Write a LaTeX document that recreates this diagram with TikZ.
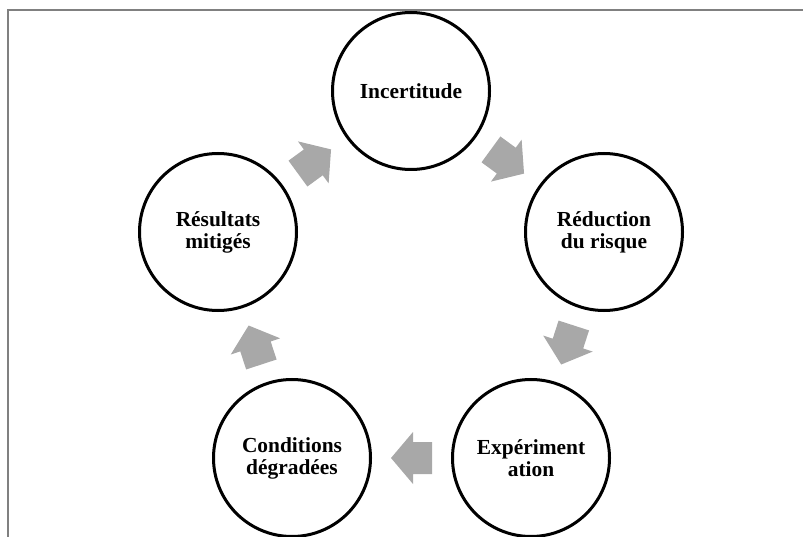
\documentclass[tikz,border=0pt]{standalone}
\usepackage{fontspec}
\setmainfont{Liberation Serif}
\usetikzlibrary{calc}
\definecolor{framegray}{RGB}{128,128,128}
\definecolor{arrowgray}{RGB}{168,168,168}
\tikzset{
  stage/.style={circle, draw=black, line width=3bp, minimum size=157bp, inner sep=0pt,
    align=center, font=\fontsize{21.5}{22}\selectfont\bfseries},
  cyclearrow/.style={fill=arrowgray, draw=none},
  framerule/.style={draw=framegray, line width=2.2bp}
}
\begin{document}
\begin{tikzpicture}[x=1bp, y=-1bp]
\useasboundingbox (0,0) rectangle (803,537);
\clip (0,0) rectangle (803,537);
\coordinate (ftl) at (8,10);
\coordinate (ftr) at (803,10);
\coordinate (fbl) at (8,537);
\draw[framerule] (ftr) -- (ftl) -- (fbl);

\node[stage] (inc)  at (411,91)  {Incertitude};
\node[stage] (red)  at (604,232) {Réduction\\du risque};
\node[stage] (exp)  at (531,458) {Expériment\\ation};
\node[stage] (cond) at (292,458) {Conditions\\dégradées};
\node[stage] (res)  at (218,232) {Résultats\\mitigés};

\foreach \a/\b in {inc/red, red/exp, exp/cond, cond/res, res/inc} {
  \pgfmathanglebetweenpoints{\pgfpointanchor{\a}{center}}{\pgfpointanchor{\b}{center}}
  \let\cycang\pgfmathresult
  \begin{scope}[shift={($(\a)!0.5!(\b)$)}, rotate=\cycang, x=1bp, y=1bp]
    \fill[cyclearrow] (-20.5,-16) -- (-1.5,-16) -- (-1.5,-26) -- (20.5,0)
      -- (-1.5,26) -- (-1.5,16) -- (-20.5,16) -- cycle;
  \end{scope}
}
\end{tikzpicture}
\end{document}
